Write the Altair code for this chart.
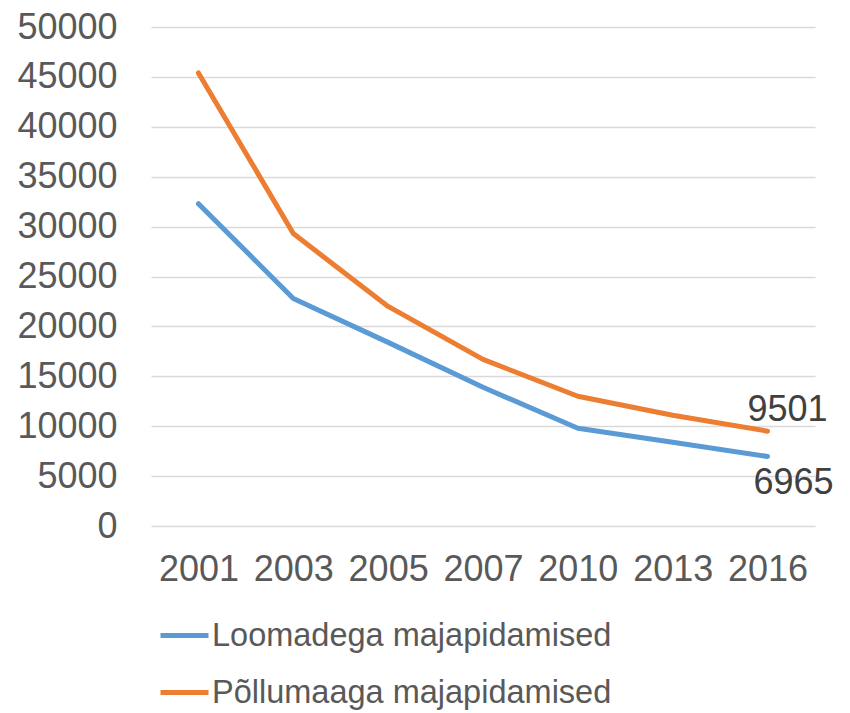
import altair as alt
import pandas as pd

years = ["2001", "2003", "2005", "2007", "2010", "2013", "2016"]
loomadega = [32300, 22800, 18400, 13900, 9800, 8400, 6965]
pollumaaga = [45400, 29300, 22000, 16700, 13000, 11100, 9501]
series_names = ["Loomadega majapidamised", "Põllumaaga majapidamised"]
colors = ["#5b9bd5", "#ed7d31"]

rows = []
for name, vals in zip(series_names, [loomadega, pollumaaga]):
    for y, v in zip(years, vals):
        rows.append({"year": y, "value": v, "series": name})
df = pd.DataFrame(rows)

FONT = "Liberation Sans"
GREY = "#595959"

base = alt.Chart(df)

lines = base.mark_line(strokeWidth=5, strokeCap="round", strokeJoin="round").encode(
    x=alt.X("year:O", sort=years, title=None,
            axis=alt.Axis(labelAngle=0, domain=False, ticks=False, labelPadding=26,
                          labelFontSize=36, labelColor=GREY, labelFont=FONT, grid=False)),
    y=alt.Y("value:Q", title=None,
            scale=alt.Scale(domain=[0, 50000], nice=False),
            axis=alt.Axis(values=list(range(0, 50001, 5000)), format="d", domain=False, ticks=False,
                          labelPadding=34, labelFontSize=36, labelColor=GREY, labelFont=FONT,
                          grid=True, gridColor="#d9d9d9", gridWidth=1.5)),
    color=alt.Color("series:N", sort=series_names,
                    scale=alt.Scale(domain=series_names, range=colors),
                    legend=alt.Legend(title=None, orient="none", legendX=7, legendY=582,
                                      symbolType="stroke", symbolSize=2304, symbolStrokeWidth=5,
                                      labelFontSize=32.5, labelFont=FONT, labelColor=GREY,
                                      labelOffset=1, labelLimit=0, rowPadding=14,
                                      direction="vertical")),
)

lab_orange = base.mark_text(font=FONT, fontSize=36, color="#404040", dx=20, dy=-21).encode(
    x=alt.X("year:O", sort=years),
    y="value:Q",
    text="value:Q",
).transform_filter(
    (alt.datum.year == "2016") & (alt.datum.series == series_names[1])
)

lab_blue = base.mark_text(font=FONT, fontSize=36, color="#404040", dx=26, dy=27).encode(
    x=alt.X("year:O", sort=years),
    y="value:Q",
    text="value:Q",
).transform_filter(
    (alt.datum.year == "2016") & (alt.datum.series == series_names[0])
)

chart = alt.layer(lines, lab_orange, lab_blue).properties(
    width=664, height=499,
    autosize=alt.AutoSizeParams(type="none"),
    padding={"left": 143, "top": 19, "right": 27, "bottom": 186},
).configure_view(stroke=None)

chart.save("out.html", embed_options={"renderer": "svg", "actions": False})
